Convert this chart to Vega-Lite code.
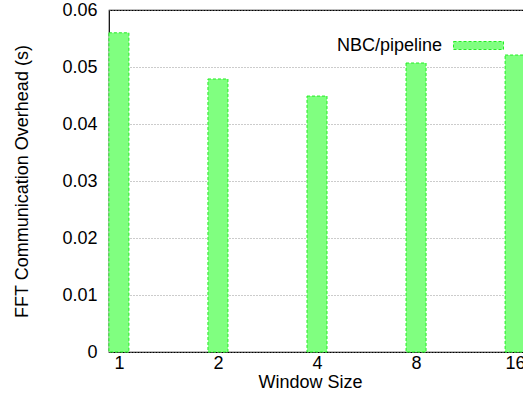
{
  "$schema": "https://vega.github.io/schema/vega-lite/v6.json",
  "width": 416,
  "height": 342,
  "autosize": {"type": "none"},
  "padding": {"left": 109, "top": 10, "right": 0, "bottom": 42},
  "background": "white",
  "config": {
    "font": "Liberation Sans",
    "view": {"stroke": "black", "strokeWidth": 1.2},
    "axis": {"labelFont": "Liberation Sans", "titleFont": "Liberation Sans", "labelColor": "black", "titleColor": "black", "titleFontWeight": "normal", "labelFontSize": 18, "titleFontSize": 18}
  },
  "data": {
    "values": [
      {"idx": 0, "window": "1", "overhead": 0.0560, "series": "NBC/pipeline"},
      {"idx": 1, "window": "2", "overhead": 0.0479, "series": "NBC/pipeline"},
      {"idx": 2, "window": "4", "overhead": 0.0449, "series": "NBC/pipeline"},
      {"idx": 3, "window": "8", "overhead": 0.0507, "series": "NBC/pipeline"},
      {"idx": 4, "window": "16", "overhead": 0.0521, "series": "NBC/pipeline"}
    ]
  },
  "mark": {"type": "bar", "width": 20, "stroke": "#22ee22", "strokeWidth": 1, "strokeDash": [3, 2]},
  "encoding": {
    "x": {
      "field": "idx", "type": "quantitative",
      "scale": {"domain": [-0.1, 4.1], "nice": false, "zero": false, "padding": 0},
      "axis": {"values": [0, 1, 2, 3, 4], "labelExpr": "['1','2','4','8','16'][datum.value]", "grid": false, "ticks": false, "domain": false, "labelPadding": 2, "title": "Window Size", "titlePadding": 1, "titleX": 201, "titleAnchor": null}
    },
    "y": {
      "field": "overhead", "type": "quantitative",
      "scale": {"domain": [0, 0.06], "nice": false, "padding": 0},
      "axis": {"values": [0, 0.01, 0.02, 0.03, 0.04, 0.05, 0.06], "format": ".2~f", "grid": true, "gridColor": "#999999", "gridDash": [1, 2], "gridWidth": 1, "ticks": false, "domain": false, "labelPadding": 12, "title": "FFT Communication Overhead (s)", "titlePadding": 30}
    },
    "color": {
      "field": "series", "type": "nominal",
      "scale": {"range": ["#80ff80"]},
      "legend": {"title": null, "orient": "none", "legendX": 344, "legendY": 10, "padding": 0, "symbolType": "M-1,-0.16H1V0.16H-1Z", "symbolSize": 2500, "symbolStrokeColor": "#22ee22", "symbolStrokeWidth": 1, "symbolDash": [3, 2], "symbolOpacity": 1, "labelAlign": "right", "labelOffset": -62, "labelFontSize": 18, "labelFont": "Liberation Sans", "labelColor": "black"}
    }
  }
}
